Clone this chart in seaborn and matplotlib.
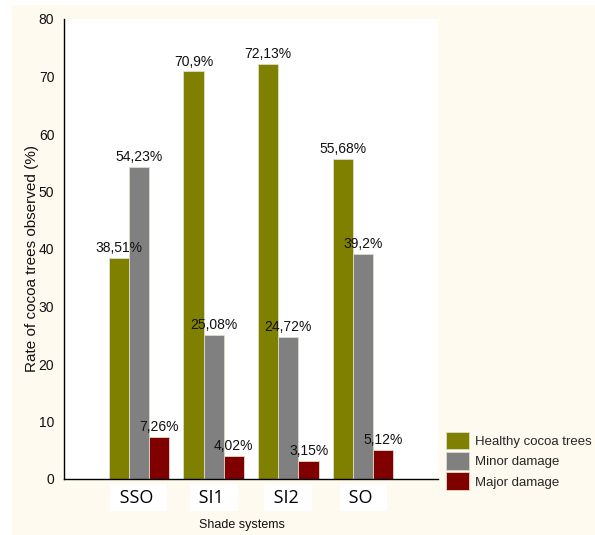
import matplotlib
matplotlib.use("Agg")
import matplotlib.pyplot as plt
from matplotlib.patches import Rectangle
import pandas as pd
import seaborn as sns

# Shade systems and damage rates (%)
systems = ["SSO", "SI1", "SI2", "SO"]
healthy = [38.51, 70.9, 72.13, 55.68]
minor = [54.23, 25.08, 24.72, 39.2]
major = [7.26, 4.02, 3.15, 5.12]
conditions = ["Healthy cocoa trees", "Minor damage", "Major damage"]
colors = ["#808000", "#808080", "#800000"]
yticks = [0, 10, 20, 30, 40, 50, 60, 70, 80]

df = pd.DataFrame({
    "System": systems * 3,
    "Rate": healthy + minor + major,
    "Condition": [c for c in conditions for _ in systems],
})

sns.set_theme(style="white")
plt.rcParams["font.family"] = ["Liberation Sans", "DejaVu Sans"]

fig = plt.figure(figsize=(5.95, 5.35), dpi=100)
fig.patch.set_facecolor("white")
# cream panel behind the chart
fig.patches.append(Rectangle((12 / 595, 0), 1 - 12 / 595, 530 / 535,
                             transform=fig.transFigure, facecolor="#FEFAF0",
                             edgecolor="none", zorder=-10))

ax = fig.add_axes([64 / 595, 56 / 535, 374 / 595, 460 / 535])
ax.set_facecolor("white")

sns.barplot(data=df, x="System", y="Rate", hue="Condition",
            palette=colors, saturation=1, width=0.81,
            edgecolor="#dcdccc", linewidth=0.6, ax=ax)

for cont, vals in zip(ax.containers, [healthy, minor, major]):
    ax.bar_label(cont, labels=[f"{v:g}".replace(".", ",") + "%" for v in vals],
                 padding=2, fontsize=10, color="#111111")

ax.set_xlim(-1.0, 4.0)
ax.set_ylim(0, 80)
ax.set_yticks(yticks)
ax.tick_params(axis="y", length=0, pad=7, labelsize=10, labelcolor="#111111")
ax.tick_params(axis="x", length=0, pad=7)
ax.set_xticks(range(len(systems)))
# white label boxes, a little wider than the names
ax.set_xticklabels([f" {s}  " for s in systems])
for lbl in ax.get_xticklabels():
    lbl.set_fontfamily("Open Sans")
    lbl.set_fontsize(13)
    lbl.set_color("black")
    lbl.set_bbox(dict(boxstyle="square,pad=0.25", facecolor="white", edgecolor="none"))

for side in ["top", "right"]:
    ax.spines[side].set_visible(False)
for side in ["left", "bottom"]:
    ax.spines[side].set_color("black")
    ax.spines[side].set_linewidth(1.0)

ax.set_xlabel("Shade systems", fontsize=9, color="#111111")
ax.xaxis.set_label_coords(0.476, -0.087)
ax.set_ylabel("Rate of cocoa trees observed (%)", fontsize=11, color="#111111")
ax.yaxis.set_label_coords(-0.068, 0.48)

ax.get_legend().remove()
handles = [Rectangle((0, 0), 1, 1, facecolor=c, edgecolor="#dcdccc", linewidth=0.6)
           for c in colors]
fig.legend(handles, conditions, loc="upper left",
           bbox_to_anchor=(446 / 595, (535 - 431.5) / 535),
           bbox_transform=fig.transFigure, frameon=False, fontsize=9.5,
           handlelength=1.75, handleheight=1.7, handletextpad=0.45,
           labelspacing=0.2, borderpad=0, borderaxespad=0)

fig.savefig("out.png", dpi=100)
